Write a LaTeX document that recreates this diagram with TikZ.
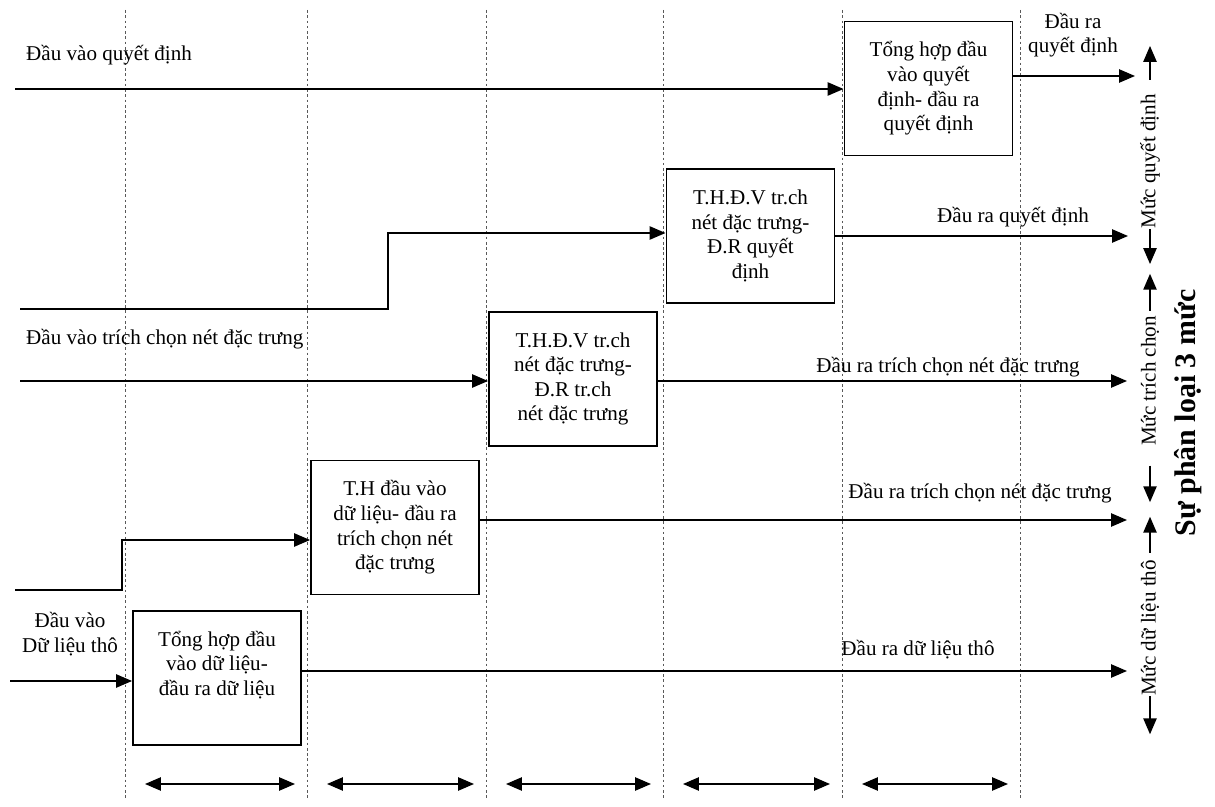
\documentclass[tikz,border=0pt]{standalone}
\usepackage{fontspec}
\setmainfont{Liberation Serif}
\usetikzlibrary{arrows.meta, positioning}

\begin{document}
\begin{tikzpicture}[x=0.02cm, y=-0.02cm, font=\fontsize{12}{14}\selectfont,
  stage/.style={draw, line width=1.1pt, minimum width=3.36cm, minimum height=2.68cm, inner sep=0pt, align=center},
  flow/.style={line width=0.9pt, -{Triangle[length=9pt, width=7.5pt]}},
  span/.style={line width=0.9pt, {Triangle[length=9pt, width=7.5pt]}-{Triangle[length=9pt, width=7.5pt]}},
  grid/.style={dash pattern=on 1.5pt off 1.5pt, black!65, line width=0.4pt},
  lvl/.style={rotate=90, inner sep=0pt}]
  \useasboundingbox (0,0) rectangle (1215,807);
  % Column guides
  \foreach \gx in {125,307,486,663,842,1020}
    \draw[grid] (\gx,10) -- (\gx,800);
  \foreach \a/\b in {145/295, 327/474, 506/651, 683/830, 862/1008}
    \draw[span] (\a,784) -- (\b,784);
  % Stages
  \node[stage] (boxRaw) at (217,678) {Tổng hợp đầu\\vào dữ liệu-\\đầu ra dữ liệu\\[3pt] \mbox{}};
  \node[stage] (boxRawFeat) at (395,527.5) {T.H đầu vào\\dữ liệu- đầu ra\\trích chọn nét\\đặc trưng};
  \node[stage] (boxFeat) at (573,379) {T.H.Đ.V tr.ch\\nét đặc trưng-\\Đ.R tr.ch\\nét đặc trưng};
  \node[stage] (boxFeatDec) at (750.5,236) {T.H.Đ.V tr.ch\\nét đặc trưng-\\Đ.R quyết\\định};
  \node[stage] (boxDec) at (928.5,88.5) {Tổng hợp đầu\\vào quyết\\định- đầu ra\\quyết định};
  % Decision level
  \coordinate (inDec) at (15,89);
  \draw[flow] (inDec) -- (inDec -| boxDec.west);
  \node[anchor=west] (lblInDec) at (20,55) {Đầu vào quyết định};
  \coordinate (outDec) at (1135,76);
  \draw[flow] (outDec -| boxDec.east) -- (outDec);
  \node[align=center] (lblOutDec) at (1073,35) {Đầu ra\\quyết định};
  \coordinate (inFeatDec) at (20,309);
  \coordinate (stepFeatDec) at (388,233);
  \draw[flow] (inFeatDec) -| (stepFeatDec) -- (stepFeatDec -| boxFeatDec.west);
  \coordinate (outFeatDec) at (1128,236);
  \draw[flow] (outFeatDec -| boxFeatDec.east) -- (outFeatDec);
  \node (lblOutFeatDec) at (1013,217) {Đầu ra quyết định};
  % Feature level
  \coordinate (inFeat) at (20,381);
  \draw[flow] (inFeat) -- (inFeat -| boxFeat.west);
  \node[anchor=west] (lblInFeat) at (20,339) {Đầu vào trích chọn nét đặc trưng};
  \coordinate (outFeat) at (1127,381);
  \draw[flow] (outFeat -| boxFeat.east) -- (outFeat);
  \node (lblOutFeat) at (948,367) {Đầu ra trích chọn nét đặc trưng};
  \coordinate (inRawFeat) at (15,590);
  \coordinate (stepRawFeat) at (122,540);
  \draw[flow] (inRawFeat) -| (stepRawFeat) -- (stepRawFeat -| boxRawFeat.west);
  \coordinate (outRawFeat) at (1127,520);
  \draw[flow] (outRawFeat -| boxRawFeat.east) -- (outRawFeat);
  \node (lblOutRawFeat) at (980,493) {Đầu ra trích chọn nét đặc trưng};
  % Raw data level
  \coordinate (inRaw) at (10,681);
  \draw[flow] (inRaw) -- (inRaw -| boxRaw.west);
  \node[align=center] (lblInRaw) at (70,634) {Đầu vào\\Dữ liệu thô};
  \coordinate (outRaw) at (1127,671);
  \draw[flow] (outRaw -| boxRaw.east) -- (outRaw);
  \node (lblOutRaw) at (918,650) {Đầu ra dữ liệu thô};
  % Levels on the right
  \node[lvl] (lvlDec) at (1150,161.5) {Mức quyết định};
  \draw[flow, shorten <=8pt] (lvlDec.east) -- ++(0,-48);
  \draw[flow] (lvlDec.west) -- ++(0,35);
  \node[lvl] (lvlFeat) at (1150,381) {Mức trích chọn};
  \draw[flow, shorten <=3pt] (lvlFeat.east) -- ++(0,-42);
  \draw[flow, shorten <=11pt] (lvlFeat.west) -- ++(0,56);
  \node[lvl] (lvlRaw) at (1150,628) {Mức dữ liệu thô};
  \draw[flow, shorten <=4pt] (lvlRaw.east) -- ++(0,-43);
  \draw[flow] (lvlRaw.west) -- ++(0,38);
  \node[rotate=90, font=\fontsize{17}{20}\selectfont\bfseries] (title) at (1188,413) {Sự phân loại 3 mức};
\end{tikzpicture}
\end{document}
